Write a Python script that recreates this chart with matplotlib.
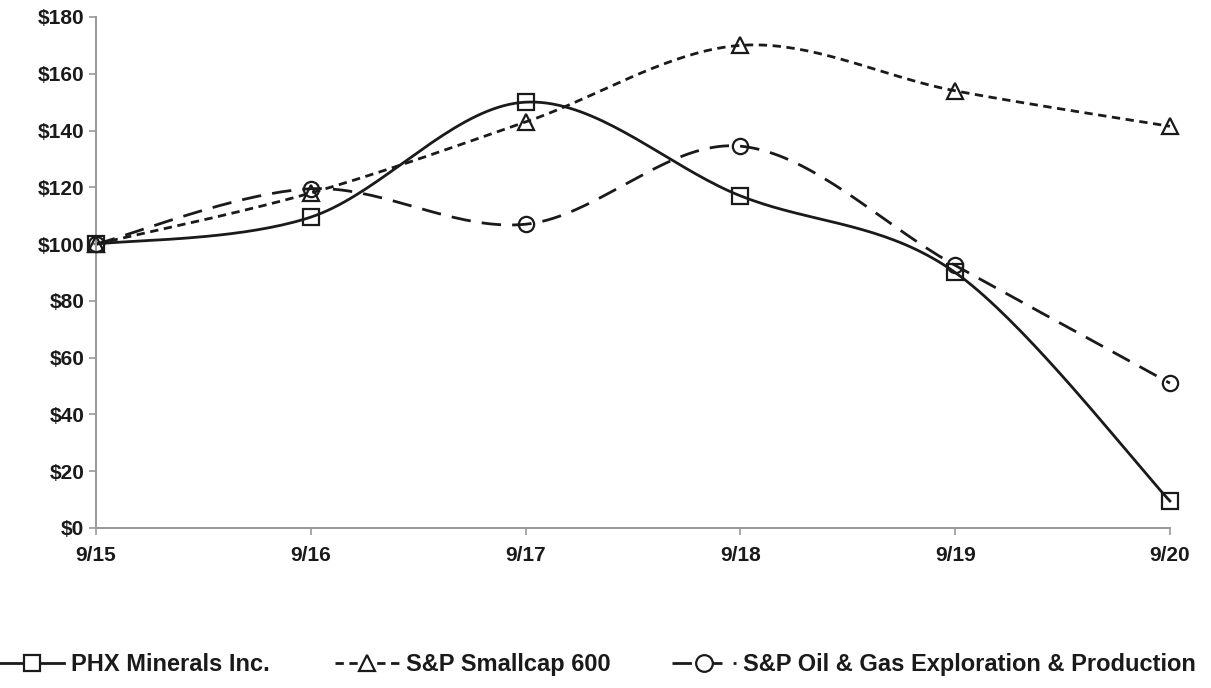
import matplotlib

matplotlib.use("Agg")
import matplotlib.pyplot as plt
import numpy as np
from matplotlib.lines import Line2D

# Values (indexed to $100 at 9/15).
years = ["9/15", "9/16", "9/17", "9/18", "9/19", "9/20"]
phx = [100, 109.5, 150, 117, 90, 9.5]
smallcap = [100, 118, 143, 170, 154, 141.5]
oil_gas = [100, 119.5, 107, 134.5, 92.5, 51]

labels = ["PHX Minerals Inc.", "S&P Smallcap 600", "S&P Oil & Gas Exploration & Production"]

plt.rcParams["font.family"] = ["Liberation Sans", "DejaVu Sans"]
plt.rcParams["font.weight"] = "bold"


def smooth(y, n=40):
    """Excel-like smoothed line: Catmull-Rom Bezier through the points."""
    x = np.arange(len(y), dtype=float)
    y = np.asarray(y, dtype=float)
    pts = np.column_stack([x, y])
    padded = np.vstack([pts[0], pts, pts[-1]])
    out = []
    t = np.linspace(0, 1, n)[:, None]
    for i in range(len(pts) - 1):
        p0, p1, p2, p3 = padded[i], padded[i + 1], padded[i + 2], padded[i + 3]
        c1 = p1 + (p2 - p0) / 6
        c2 = p2 - (p3 - p1) / 6
        seg = ((1 - t) ** 3) * p1 + 3 * ((1 - t) ** 2) * t * c1 + 3 * (1 - t) * t ** 2 * c2 + t ** 3 * p2
        out.append(seg if i == 0 else seg[1:])
    seg = np.vstack(out)
    return seg[:, 0], seg[:, 1]


fig = plt.figure(figsize=(12.11, 6.88), dpi=100)
ax = fig.add_axes([0.0793, 0.2326, 0.8868, 0.7427])

styles = [
    dict(marker="s", dashes=None),
    dict(marker="^", dashes=(3, 2)),
    dict(marker="o", dashes=(7, 4)),
]
col = "#1a1a1a"
handles = []
for vals, st, lab in zip([phx, smallcap, oil_gas], styles, labels):
    sx, sy = smooth(vals)
    kw = dict(color=col, lw=2.0, clip_on=False)
    if st["dashes"] is not None:
        kw["dashes"] = st["dashes"]
    ax.plot(sx, sy, **kw)
    ax.plot(np.arange(len(vals)), vals, ls="none", marker=st["marker"], ms=11,
            mfc="none", mec=col, mew=1.6, clip_on=False, zorder=5)
    hkw = dict(color=col, lw=2.0, marker=st["marker"], ms=12, mfc="white", mec=col, mew=1.6)
    if st["dashes"] is not None:
        hkw["dashes"] = st["dashes"]
    handles.append(Line2D([], [], label=lab, **hkw))

ax.set_xlim(0, len(years) - 1)
ax.set_ylim(0, 180)
ax.set_xticks(np.arange(len(years)))
ax.set_xticklabels(years)
ax.set_yticks(np.arange(0, 181, 20))
ax.set_yticklabels([f"${v}" for v in range(0, 181, 20)])
ax.tick_params(axis="both", labelsize=15, labelcolor="#1a1a1a", length=5, width=1.2,
               color="#999999")
ax.tick_params(axis="x", pad=8)
for side in ["top", "right"]:
    ax.spines[side].set_visible(False)
for side in ["left", "bottom"]:
    ax.spines[side].set_color("#999999")
    ax.spines[side].set_linewidth(1.4)
for lbl in ax.get_xticklabels() + ax.get_yticklabels():
    lbl.set_fontweight("bold")

# Legend entries sit at uneven spacing along the bottom, so place them one by one.
legend_x = [0.0, 0.277, 0.555]
for h, lx in zip(handles, legend_x):
    leg = fig.legend(handles=[h], loc="center left", bbox_to_anchor=(lx, 0.034),
                     frameon=False, handlelength=2.7, handletextpad=0.3,
                     borderpad=0, borderaxespad=0,
                     prop={"weight": "bold", "size": 17})
    for txt in leg.get_texts():
        txt.set_color(col)

fig.savefig("out.png", dpi=100)
